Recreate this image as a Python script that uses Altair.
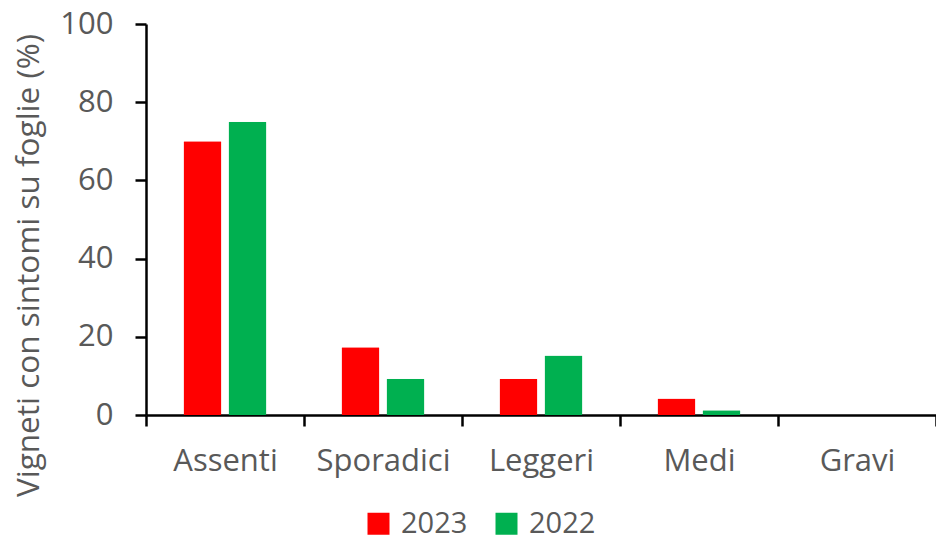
import altair as alt
import pandas as pd

categories = ["Assenti", "Sporadici", "Leggeri", "Medi", "Gravi"]
years = ["2023", "2022"]
values_2023 = [70, 17.3, 9.3, 4.2, 0]
values_2022 = [75, 9.3, 15.2, 1.2, 0]
colors = ["#FF0000", "#00B050"]

rows = []
for c, a, b in zip(categories, values_2023, values_2022):
    rows.append({"cat": c, "year": "2023", "val": a})
    rows.append({"cat": c, "year": "2022", "val": b})
df = pd.DataFrame(rows)

FONT = "Open Sans"
GRAY = "#595959"

chart = alt.Chart(df).mark_bar(cornerRadius=1).encode(
    x=alt.X("cat:N", sort=categories,
            scale=alt.Scale(paddingInner=0, paddingOuter=0),
            axis=alt.Axis(title=None, labelAngle=0, tickBand="extent",
                          domainColor="black", domainWidth=2.5,
                          tickColor="black", tickWidth=2.5, tickSize=11,
                          labelFont=FONT, labelFontSize=31, labelColor=GRAY,
                          labelPadding=20)),
    xOffset=alt.XOffset("year:N", sort=years,
                        scale=alt.Scale(paddingInner=0.156, paddingOuter=0.833)),
    y=alt.Y("val:Q", scale=alt.Scale(domain=[0, 100], nice=False),
            axis=alt.Axis(title="Vigneti con sintomi su foglie (%)",
                          values=[0, 20, 40, 60, 80, 100], grid=False,
                          domainColor="black", domainWidth=2.5,
                          tickColor="black", tickWidth=2.5, tickSize=11,
                          labelFont=FONT, labelFontSize=31, labelColor=GRAY,
                          labelPadding=22,
                          titleFont=FONT, titleFontSize=31.5, titleColor=GRAY,
                          titleFontWeight="normal",
                          titleX=-117, titleY=241, titleAngle=270,
                          titleAlign="center", titleBaseline="middle")),
    color=alt.Color("year:N", sort=years,
                    scale=alt.Scale(domain=years, range=colors),
                    legend=alt.Legend(title=None, orient="none", direction="horizontal",
                                      legendX=218, legendY=485,
                                      symbolType="square", symbolSize=484,
                                      symbolStrokeWidth=0, symbolOpacity=1,
                                      labelFont=FONT, labelFontSize=29,
                                      labelColor=GRAY, columnPadding=24,
                                      labelOffset=8)),
).properties(
    width=790, height=391,
    autosize=alt.AutoSizeParams(type="none"),
    padding={"left": 138, "top": 16, "right": 0, "bottom": 122},
).configure_view(stroke=None)

chart.save("out.html", embed_options={"renderer": "svg", "actions": False})
